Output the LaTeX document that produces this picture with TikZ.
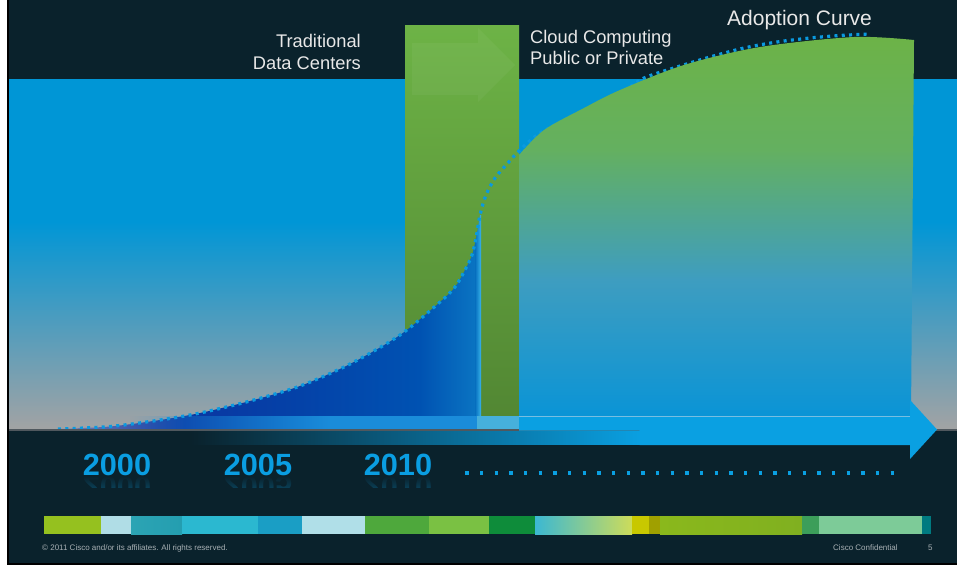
\documentclass[tikz,border=0pt]{standalone}
\usepackage{fontspec}
\setmainfont{Liberation Sans}
\usetikzlibrary{fadings}
\tikzfading[name=fadein, left color=transparent!100, right color=transparent!0]
\tikzfading[name=fadedown, top color=transparent!0, bottom color=transparent!100]
\definecolor{bgdark}{HTML}{0A222C}
\definecolor{skyblue}{HTML}{0096D6}
\definecolor{horizon}{HTML}{A2A3A4}
\definecolor{arrowblue}{HTML}{0AA0E2}
\definecolor{dotblue}{HTML}{0A9AE0}
\definecolor{lbltext}{HTML}{E8E8E8}
\definecolor{yearblue}{HTML}{0A9EE2}
\definecolor{foottext}{HTML}{A8B0B4}
\definecolor{gtop}{HTML}{6DB346}
\definecolor{gbot}{HTML}{528733}
\definecolor{fa}{HTML}{0A36A2}
\definecolor{fb}{HTML}{0442A8}
\definecolor{fc}{HTML}{0052B2}
\definecolor{fd}{HTML}{0A74C2}
\definecolor{fe}{HTML}{38B4EA}
\definecolor{ga}{HTML}{64B060}
\definecolor{gb}{HTML}{3E9DC0}
\definecolor{gc}{HTML}{0A94D6}
\definecolor{hline}{HTML}{50585E}
\definecolor{bandup}{HTML}{1A8CDA}
\definecolor{bandlight}{HTML}{46B0DC}
\definecolor{bandedge}{HTML}{78BEE1}
\definecolor{c1}{HTML}{95C11F}
\definecolor{c2}{HTML}{B0DDE6}
\definecolor{c3a}{HTML}{2CA4B4}
\definecolor{c3b}{HTML}{249EB0}
\definecolor{c4}{HTML}{2BB8D0}
\definecolor{c5}{HTML}{1A9EC5}
\definecolor{c6}{HTML}{B0DFE8}
\definecolor{c7}{HTML}{4EA83C}
\definecolor{c8}{HTML}{7AC143}
\definecolor{c9}{HTML}{0E8C3A}
\definecolor{c10a}{HTML}{3CB8D2}
\definecolor{c10b}{HTML}{CDDC5A}
\definecolor{c11}{HTML}{C8C800}
\definecolor{c12}{HTML}{A0A000}
\definecolor{c13a}{HTML}{8AB81C}
\definecolor{c13b}{HTML}{80B020}
\definecolor{c14}{HTML}{3C9E5A}
\definecolor{c15}{HTML}{7DCB98}
\definecolor{c16}{HTML}{007A80}
\tikzset{
  lbl/.style={text=lbltext, inner sep=0pt, font=\fontsize{18.3}{22}\selectfont},
  bigl/.style={text=lbltext, inner sep=0pt, font=\fontsize{21}{24}\selectfont},
  year/.style={text=yearblue, inner sep=0pt, font=\fontsize{30.7}{32}\selectfont\bfseries},
  foot/.style={text=foottext, inner sep=0pt, font=\fontsize{8}{9}\selectfont},
  curvedots/.style={draw=dotblue, line width=3.2pt, line cap=butt, dash pattern=on 3pt off 4.3pt}
}
\begin{document}
\begin{tikzpicture}[x=1pt,y=-1pt]
\useasboundingbox (0,0) rectangle (957,565);
% frame and background
\fill[white] (0,0) rectangle (957,565);
\fill[black] (6.7,0) rectangle (957,565);
\fill[bgdark] (9.3,0) rectangle (957,563.3);
% sky band
\fill[skyblue] (9.3,79) rectangle (957,222);
\shade[top color=skyblue, bottom color=horizon] (9.3,221.5) rectangle (957,429);
% green vertical bar
\shade[top color=gtop, bottom color=gbot] (405,25) rectangle (519,417);
\fill[white, opacity=.045] (412,43) -- (478,43) -- (478,28) -- (515,65) -- (478,102) -- (478,95) -- (412,95) -- cycle;
% blue area under the early curve
\begin{scope}
\clip plot[smooth] coordinates {(58,429) (110,426.5) (160,420) (200,413) (250,401) (300,386) (350,364) (400,335) (440,302) (455,287) (465,270) (472,255) (476,238) (480,215)} -- (481,215) -- (481,429) -- cycle;
\shade[left color=horizon!80!blue, right color=fa] (58,200) rectangle (185,430);
\shade[left color=fa, right color=fb] (184.5,200) rectangle (300,430);
\shade[left color=fb, right color=fc] (299.5,200) rectangle (420,430);
\shade[left color=fc, right color=fd] (419.5,200) rectangle (476,430);
\shade[left color=fd, right color=fe] (475.5,200) rectangle (481,430);
\end{scope}
% adoption curve (dotted)
\path[curvedots] plot[smooth] coordinates {(58,429) (110,426.5) (160,420) (200,413) (250,401) (300,386) (350,364) (400,335) (440,302) (455,287) (465,270) (472,255) (476,238) (480,215) (486,195) (495,178) (507,164) (520,150) (540,133) (580,112) (620,93) (644,78) (677,67) (710,57) (744,48) (777,42) (810,38) (840,35.5) (869,34)};
% green-to-blue adoption area
\begin{scope}
\clip (519,416) -- plot[smooth] coordinates {(519,155) (544,130) (584,108) (620,90) (684,65) (760,47) (854,37) (914,40)} -- (911,416) -- cycle;
\shade[top color=gtop, bottom color=ga] (519,30) rectangle (915,150);
\shade[top color=ga, bottom color=gb] (519,149.5) rectangle (915,280);
\shade[top color=gb, bottom color=gc] (519,279.5) rectangle (915,417);
\end{scope}
% horizon line
\draw[line width=2pt, hline] (9.3,429.5) -- (957,429.5);
% time arrow
\fill[bandup, path fading=fadein] (130,416) rectangle (330,428.5);
\fill[bandup] (329.5,416) rectangle (477,428.5);
\fill[bandlight] (477,416) rectangle (519,428.5);
\fill[arrowblue, path fading=fadein] (190,430.5) rectangle (640,445);
\fill[arrowblue] (519,416) -- (910,416) -- (910,400) -- (937,429.5) -- (910,459) -- (910,445) -- (639.5,445) -- (639.5,430.5) -- (519,430.5) -- cycle;
\draw[line width=1pt, bandedge] (519,416) -- (910,416);
% labels
\node[lbl, anchor=base east] (trad1) at (361,47) {Traditional};
\node[lbl, anchor=base east] (trad2) at (361,69) {Data Centers};
\node[lbl, anchor=base west] (cloud1) at (530,43) {Cloud Computing};
\node[lbl, anchor=base west] (cloud2) at (530,64.5) {Public or Private};
\node[bigl, anchor=base west] (adopt) at (727,25) {Adoption Curve};
% years with reflections
\node[year, anchor=base] (y2000) at (117,475) {2000};
\node[year, anchor=base] (y2005) at (258,475) {2005};
\node[year, anchor=base] (y2010) at (398,475) {2010};
\begin{scope}
\clip (60,476) rectangle (460,487);
\node[year, anchor=base, yscale=-1, opacity=.22] (r2000) at (117,476.5) {2000};
\node[year, anchor=base, yscale=-1, opacity=.22] (r2005) at (258,476.5) {2005};
\node[year, anchor=base, yscale=-1, opacity=.22] (r2010) at (398,476.5) {2010};
\fill[bgdark, path fading=fadedown] (60,487) rectangle (460,476);
\end{scope}
% future dotted line
\draw[arrowblue, line width=3.3pt, dash pattern=on 3.3pt off 11.36pt] (465.4,473) -- (895,473);
% colour bar
\fill[c1] (44,516) rectangle (101,534);
\fill[c2] (101,516) rectangle (131,534);
\shade[left color=c3a, right color=c3b] (131,516) rectangle (182,534);
\fill[c4] (182,516) rectangle (258,534);
\fill[c5] (258,516) rectangle (302,534);
\fill[c6] (302,516) rectangle (365,534);
\fill[c7] (365,516) rectangle (429,534);
\fill[c8] (429,516) rectangle (489,534);
\fill[c9] (489,516) rectangle (535,534);
\shade[left color=c10a, right color=c10b] (535,516) rectangle (632,534);
\fill[c11] (632,516) rectangle (649,534);
\fill[c12] (649,516) rectangle (660,534);
\shade[left color=c13a, right color=c13b] (660,516) rectangle (802,534);
\fill[c14] (802,516) rectangle (819,534);
\fill[c15] (819,516) rectangle (922,534);
\fill[c16] (922,516) rectangle (931,534);
% footer
\node[foot, anchor=base west] (copy) at (42,550) {© 2011 Cisco and/or its affiliates. All rights reserved.};
\node[foot, anchor=base west] (conf) at (833,550) {Cisco Confidential};
\node[foot, anchor=base west] (page) at (928,550) {5};
\end{tikzpicture}
\end{document}
